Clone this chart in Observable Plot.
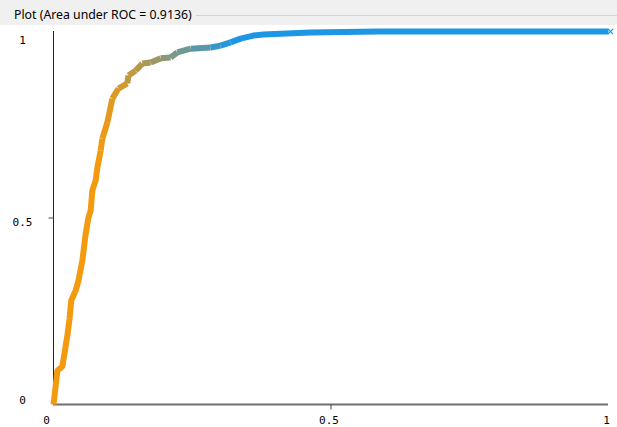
<!DOCTYPE html>
<html>
<head>
<meta charset="utf-8">
<script src="https://cdn.jsdelivr.net/npm/d3@7"></script>
<script src="https://cdn.jsdelivr.net/npm/@observablehq/plot@0.6"></script>
<style>
  html, body { margin: 0; padding: 0; background: #fff; width: 617px; height: 427px; overflow: hidden; }
  #title { height: 25px; background: #f0f0f0; display: flex; align-items: center; font-family: "Noto Sans", sans-serif; font-size: 12.3px; color: #000; box-sizing: border-box; padding-left: 14px; padding-top: 4px; }
  #title span { white-space: nowrap; }
  #title .rule { flex: 1; height: 1px; background: #d5d5d5; margin-left: 4px; margin-top: 1px; }
  #chart svg { display: block; }
</style>
</head>
<body>
<div id="title"><span>Plot (Area under ROC = 0.9136)</span><div class="rule"></div></div>
<div id="chart"></div>
<script>
// False positive rate / true positive rate
const fpr = [0, 0.004, 0.007, 0.016, 0.020, 0.025, 0.029, 0.032, 0.040, 0.045, 0.052, 0.058, 0.063, 0.067, 0.070, 0.076, 0.079, 0.085, 0.088, 0.097, 0.106, 0.117, 0.133, 0.135, 0.148, 0.160, 0.175, 0.193, 0.211, 0.223, 0.247, 0.283, 0.301, 0.319, 0.337, 0.360, 0.378, 0.463, 0.586, 1.0];
const tpr = [0, 0.051, 0.091, 0.102, 0.139, 0.185, 0.231, 0.279, 0.306, 0.332, 0.386, 0.458, 0.501, 0.520, 0.574, 0.601, 0.635, 0.681, 0.713, 0.756, 0.820, 0.847, 0.861, 0.882, 0.895, 0.914, 0.917, 0.928, 0.930, 0.944, 0.954, 0.957, 0.962, 0.971, 0.981, 0.989, 0.992, 0.997, 1.0, 1.0];
const xTicks = [0, 0.5, 1];
const yTicks = [0, 0.5, 1];
const tickLabel = d => d === 0.5 ? "0.5" : String(d);

const rows = fpr.map((f, i) => ({fpr: f, tpr: tpr[i]}));
const last = [rows[rows.length - 1]];

const mono = "DejaVu Sans Mono, monospace";

const yLabelDy = t => t === 1 ? 9 : (t === 0 ? -4 : 4);
const xLabelDx = t => t === 0 ? -7 : -2;

// short tick glyphs drawn as custom symbols
const tickDown = {draw(ctx) { ctx.moveTo(0, 0); ctx.lineTo(0, 5); }};
const tickLeft = {draw(ctx) { ctx.moveTo(0, 0); ctx.lineTo(-5, 0); }};

const chart = Plot.plot({
  width: 617,
  height: 402,
  marginLeft: 53,
  marginRight: 9,
  marginTop: 6,
  marginBottom: 23,
  x: {domain: [0, 1], axis: null},
  y: {domain: [0, 1], axis: null},
  color: {type: "linear", domain: [0.08, 0.31], range: ["#f39a0e", "#1d96e3"], interpolate: "rgb", clamp: true},
  style: {fontFamily: mono, fontSize: "11px", background: "#fff"},
  marks: [
    // x axis line (gray, thick)
    Plot.ruleY([0], {x1: 0, x2: 1, stroke: "#6f6f6f", strokeWidth: 2}),
    // y axis line (dark, thin)
    Plot.ruleX([0], {y1: 0, y2: 1, stroke: "#222", strokeWidth: 1}),
    // small ticks at 0.5
    Plot.dot(xTicks.filter(t => t === 0.5), {x: d => d, y: 0, symbol: tickDown, fill: "none", stroke: "#444", strokeWidth: 1}),
    Plot.dot(yTicks.filter(t => t === 0.5), {x: 0, y: d => d, symbol: tickLeft, fill: "none", stroke: "#444", strokeWidth: 1}),
    // ROC curve
    Plot.line(rows, {x: "fpr", y: "tpr", z: null, stroke: "fpr", strokeWidth: 6, strokeLinejoin: "miter", strokeLinecap: "butt"}),
    Plot.dot(last, {x: "fpr", y: "tpr", symbol: "times", r: 2.5, stroke: "#1d96e3", strokeWidth: 1.2, dx: 2}),
    // tick labels
    ...yTicks.map(t => Plot.text([t], {x: 0, y: d => d, text: tickLabel, dx: -31, dy: yLabelDy(t), textAnchor: "middle", fill: "#000"})),
    ...xTicks.map(t => Plot.text([t], {x: d => d, y: 0, text: tickLabel, dx: xLabelDx(t), dy: 16, textAnchor: "middle", fill: "#000"}))
  ]
});
document.getElementById("chart").append(chart);
</script>
</body>
</html>
